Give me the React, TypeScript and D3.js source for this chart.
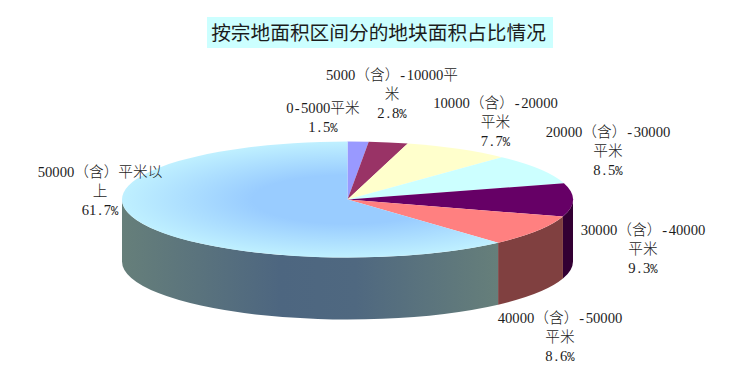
import React from "react";
import * as d3 from "d3";

const titleText = "按宗地面积区间分的地块面积占比情况";
const shares = [1.5, 2.8, 7.7, 8.5, 9.3, 8.6, 61.7];
const topColors = ["#9999ff", "#993366", "#ffffcc", "#ccffff", "#660066", "#ff8080", "url(#topGrad)"];
const sideColors = ["#4d4d80", "#4d1933", "#808066", "#668080", "#330033", "#804040", "url(#sideGrad)"];
const labelLines = [
  ["0-5000平米", "1.5%"],
  ["5000（含）-10000平", "米", "2.8%"],
  ["10000（含）-20000", "平米", "7.7%"],
  ["20000（含）-30000", "平米", "8.5%"],
  ["30000（含）-40000", "平米", "9.3%"],
  ["40000（含）-50000", "平米", "8.6%"],
  ["50000（含）平米以", "上", "61.7%"],
];
const labelCenters = [
  [323, 108],
  [392, 75],
  [495.5, 103],
  [608, 132],
  [643, 230],
  [560, 318],
  [100, 172],
];

const W = 740, H = 388;
const cx = 347.5, cy = 199.5, rx = 225.5, ry = 58, depth = 62;
const FS = 14.67, CELL = FS / 2, LH = 19;

const arcs = d3.pie<number>().sort(null).value((d) => d)(shares);
const topArc = d3.arc<d3.PieArcDatum<number>>().innerRadius(0).outerRadius(1);

function sidePath(a0: number, a1: number): string | null {
  const s = Math.max(a0, Math.PI / 2), e = Math.min(a1, (3 * Math.PI) / 2);
  if (e <= s) return null;
  const d = depth / ry;
  const p = d3.path();
  const q = -Math.PI / 2;
  p.arc(0, 0, 1, s + q, e + q, false);
  p.arc(0, d, 1, e + q, s + q, true);
  p.closePath();
  return p.toString();
}

function isWide(c: string) {
  return c.charCodeAt(0) > 255;
}

function Line({ text, x, y }: { text: string; x: number; y: number }) {
  const chars = Array.from(text);
  const total = chars.reduce((acc, c) => acc + (isWide(c) ? FS : CELL), 0);
  let pos = x - total / 2;
  const runs: { font: string; size: number; str: string; xs: number[] }[] = [];
  chars.forEach((c) => {
    const wide = isWide(c);
    const w = wide ? FS : CELL;
    let font = wide ? "'Noto Sans CJK SC'" : "'Liberation Serif'";
    let size = FS;
    let off = 0;
    if (c === ".") off = 1.8;
    if (c === "-") off = 1;
    if (c === "%") {
      font = "'Liberation Mono'";
      size = 12.2;
    }
    const last = runs[runs.length - 1];
    if (last && last.font === font && last.size === size) {
      last.str += c;
      last.xs.push(pos + off);
    } else {
      runs.push({ font, size, str: c, xs: [pos + off] });
    }
    pos += w;
  });
  return (
    <text y={y + 5} fill="#1c1c1c">
      {runs.map((r, i) => (
        <tspan
          key={i}
          x={r.xs.map((v) => v.toFixed(2)).join(" ")}
          style={{ fontFamily: r.font, fontSize: r.size, fontWeight: 300 }}
        >
          {r.str}
        </tspan>
      ))}
    </text>
  );
}

export default function App() {
  return (
    <svg
      width={W}
      height={H}
      viewBox={`0 0 ${W} ${H}`}
      style={{ position: "absolute", left: 0, top: 0, background: "#fff" }}
    >
      <defs>
        <radialGradient id="topGrad" gradientUnits="userSpaceOnUse" cx={0} cy={0} r={1}>
          <stop offset="0%" stopColor="#99ccff" />
          <stop offset="42%" stopColor="#99ccff" />
          <stop offset="100%" stopColor="#bff0ff" />
        </radialGradient>
        <linearGradient id="sideGrad" gradientUnits="userSpaceOnUse" x1={-1} x2={0.67} y1={0} y2={0}>
          <stop offset="0%" stopColor="#667f7a" />
          <stop offset="42%" stopColor="#4d6680" />
          <stop offset="62%" stopColor="#4f6880" />
          <stop offset="100%" stopColor="#667f7a" />
        </linearGradient>
      </defs>
      <rect x={207} y={17} width={346} height={31} fill="#ccffff" />
      <text
        x={378.5}
        y={39.5}
        textAnchor="middle"
        fill="#1c1c1c"
        style={{ fontFamily: "'Noto Sans CJK SC'", fontSize: 19.7 }}
      >
        {titleText}
      </text>
      <g transform={`translate(${cx},${cy}) scale(${rx},${ry})`}>
        {arcs.map((a, i) => {
          const d = sidePath(a.startAngle, a.endAngle);
          return d ? <path key={i} d={d} fill={sideColors[i]} /> : null;
        })}
        {arcs.map((a, i) => (
          <path key={i} d={topArc(a) as string} fill={topColors[i]} />
        ))}
      </g>
      {labelLines.map((lines, i) =>
        lines.map((t, j) => (
          <Line key={`${i}-${j}`} text={t} x={labelCenters[i][0]} y={labelCenters[i][1] + j * LH} />
        ))
      )}
    </svg>
  );
}
